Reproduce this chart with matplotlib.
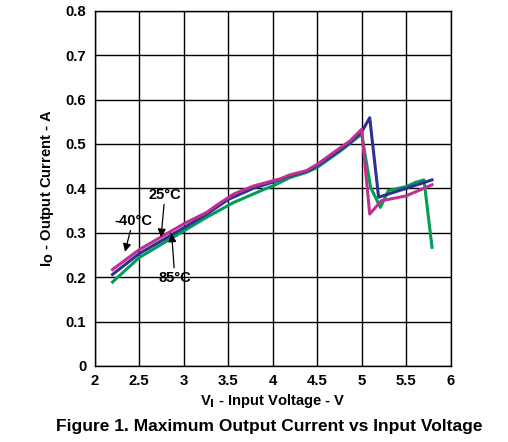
import matplotlib
matplotlib.use("Agg")
import matplotlib.pyplot as plt

plt.rcParams['font.family'] = ['Liberation Sans', 'DejaVu Sans']
plt.rcParams['font.weight'] = 'bold'

# ---- data ----
v_m40 = [2.2, 2.5, 2.88, 3.0, 3.26, 3.37, 3.56, 3.78, 4.0, 4.08, 4.19, 4.38, 4.5,
         4.68, 4.87, 5.0, 5.09, 5.22, 5.5, 5.79]
i_m40 = [0.217, 0.262, 0.306, 0.32, 0.346, 0.362, 0.387, 0.405, 0.417, 0.421, 0.43,
         0.44, 0.454, 0.48, 0.507, 0.533, 0.342, 0.372, 0.383, 0.408]

v_25 = [2.2, 2.5, 3.0, 3.26, 3.5, 3.78, 4.0, 4.19, 4.38, 4.5, 4.7, 4.87, 5.0,
        5.09, 5.19, 5.5, 5.79]
i_25 = [0.206, 0.253, 0.311, 0.342, 0.375, 0.400, 0.414, 0.428, 0.438, 0.451,
        0.478, 0.503, 0.527, 0.559, 0.38, 0.40, 0.419]

v_85 = [2.2, 2.5, 3.0, 3.26, 3.56, 3.93, 4.01, 4.19, 4.38, 4.5, 4.76, 5.0, 5.10,
        5.21, 5.30, 5.5, 5.6, 5.70, 5.79]
i_85 = [0.189, 0.244, 0.304, 0.335, 0.368, 0.40, 0.406, 0.424, 0.436, 0.447,
        0.484, 0.522, 0.402, 0.357, 0.395, 0.404, 0.413, 0.419, 0.267]

xticks = [2, 2.5, 3, 3.5, 4, 4.5, 5, 5.5, 6]
xticklabels = ['2', '2.5', '3', '3.5', '4', '4.5', '5', '5.5', '6']
yticks = [0, 0.1, 0.2, 0.3, 0.4, 0.5, 0.6, 0.7, 0.8]
yticklabels = ['0', '0.1', '0.2', '0.3', '0.4', '0.5', '0.6', '0.7', '0.8']

fig = plt.figure(figsize=(5.08, 4.42), dpi=100)
ax = fig.add_axes([0.1864, 0.172, 0.7008, 0.8038])

ax.plot(v_85, i_85, color='#009e55', lw=2.2)
ax.plot(v_25, i_25, color='#2e3192', lw=2.2)
ax.plot(v_m40, i_m40, color='#c0308f', lw=2.2)

ax.set_xlim(2, 6)
ax.set_ylim(0, 0.8)
ax.set_xticks(xticks)
ax.set_xticklabels(xticklabels)
ax.set_yticks(yticks)
ax.set_yticklabels(yticklabels)
ax.tick_params(length=0, labelsize=10.7, pad=6)
ax.grid(True, color='black', lw=1)
for s in ax.spines.values():
    s.set_linewidth(1)

ax.set_xlabel(r'V$_\mathbf{I}$ - Input Voltage - V', fontsize=10.6, fontweight='bold', labelpad=3)
ax.set_ylabel(r'I$_\mathbf{O}$ - Output Current - A', fontsize=10.6, fontweight='bold', labelpad=7)

arrow = dict(arrowstyle='-|>', color='black', lw=0.9, mutation_scale=12, shrinkA=0, shrinkB=0)
ax.annotate('-40°C', xy=(2.34, 0.257), xytext=(2.43, 0.327), fontsize=10.5,
            ha='center', va='center', arrowprops=arrow)
ax.annotate('25°C', xy=(2.745, 0.29), xytext=(2.79, 0.386), fontsize=10.5,
            ha='center', va='center', arrowprops=arrow)
ax.annotate('85°C', xy=(2.865, 0.298), xytext=(2.90, 0.199), fontsize=10.5,
            ha='center', va='center', arrowprops=arrow)

fig.text(0.53, 0.034, 'Figure 1. Maximum Output Current vs Input Voltage',
         ha='center', va='center', fontsize=12.5, fontweight='bold')

fig.savefig('out.png', dpi=100)
